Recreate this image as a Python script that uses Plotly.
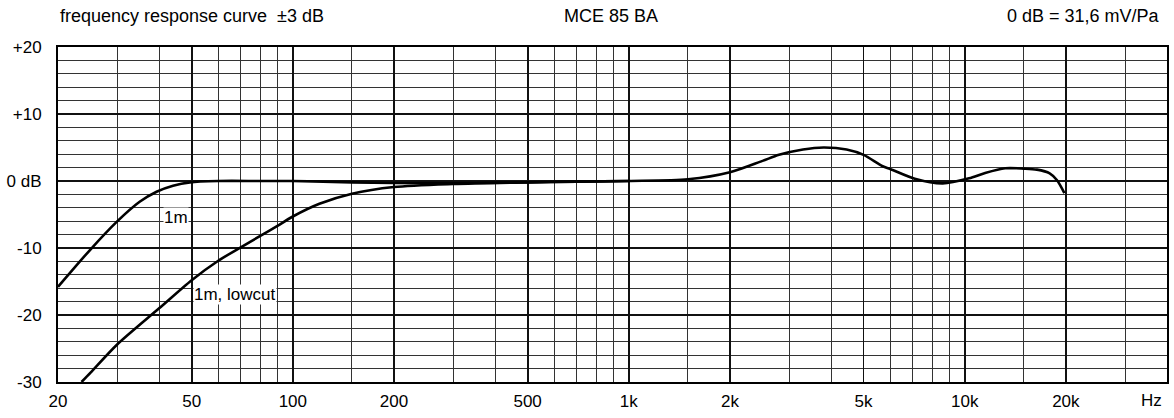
import plotly.graph_objects as go

# ---- data ----
freq_1m = [20, 24.9, 29.9, 35, 39.3, 44, 49.4, 60, 80, 100, 150, 200, 300, 500, 700,
           1000, 1500, 2000, 2500, 2800, 3300, 3800, 4450, 5000, 5700, 6000, 7100,
           8600, 10300, 11500, 13200, 15000, 16400, 17900, 18800, 19800]
db_1m = [-15.8, -10.3, -6.1, -3.1, -1.6, -0.7, -0.2, 0.0, 0.0, 0.0, -0.2, -0.3, -0.3, -0.2, -0.1,
         0.0, 0.25, 1.3, 3.0, 3.9, 4.7, 5.0, 4.7, 3.9, 2.2, 1.8, 0.35,
         -0.35, 0.4, 1.2, 1.9, 1.85, 1.7, 1.15, 0.15, -1.8]

freq_lowcut = [23.5, 25, 30, 40, 50, 60, 70, 80, 90, 100, 120, 150, 200, 300, 500, 700, 1000]
db_lowcut = [-30.0, -28.6, -24.4, -19.0, -14.8, -11.9, -9.9, -8.2, -6.7, -5.3, -3.4, -1.9,
             -0.9, -0.45, -0.2, -0.1, 0.0]

x_major = [20, 50, 100, 200, 500, 1000, 2000, 5000, 10000, 20000]
x_major_text = ["20", "50", "100", "200", "500", "1k", "2k", "5k", "10k", "20k"]
x_minor = [30, 40, 60, 70, 80, 90, 150, 300, 400, 600, 700, 800, 900, 1500,
           3000, 4000, 6000, 7000, 8000, 9000, 15000, 30000]
y_major = [-30, -20, -10, 0, 10, 20]
y_major_text = ["-30", "-20", "-10", "0 dB", "+10", "+20"]
y_minor = [v for v in range(-30, 21, 2) if v % 10 != 0]

title_left = "frequency response curve \u00a0±3 dB"
title_mid = "MCE 85 BA"
title_right = "0 dB = 31,6 mV/Pa"
label_1m = "1m"
label_lowcut = "1m, lowcut"

FONT = "Liberation Sans, Arial, Helvetica, sans-serif"
FS = 18
FS_TICK = 17

fig = go.Figure()
fig.add_trace(go.Scatter(x=freq_1m, y=db_1m, mode="lines",
                         line=dict(color="black", width=2.6, shape="spline", smoothing=0.8),
                         hoverinfo="skip", showlegend=False, cliponaxis=True))
fig.add_trace(go.Scatter(x=freq_lowcut, y=db_lowcut, mode="lines",
                         line=dict(color="black", width=2.6, shape="spline", smoothing=0.8),
                         hoverinfo="skip", showlegend=False, cliponaxis=True))

fig.update_layout(
    width=1174, height=418,
    margin=dict(l=58, r=7, t=47, b=36, autoexpand=False),
    paper_bgcolor="white", plot_bgcolor="white",
    font=dict(family=FONT, size=FS, color="black"),
    showlegend=False,
    xaxis=dict(
        type="log", range=[1.30103, 4.60206], automargin=False,
        tickmode="array", tickvals=x_major, ticktext=x_major_text,
        showgrid=True, gridcolor="#111111", gridwidth=1.8,
        minor=dict(tickmode="array", tickvals=x_minor, showgrid=True,
                   gridcolor="#333333", gridwidth=1, ticks=""),
        showline=True, linecolor="black", linewidth=2, mirror=True,
        ticks="outside", ticklen=3, tickcolor="rgba(0,0,0,0)",
        zeroline=False, tickfont=dict(size=FS_TICK),
    ),
    yaxis=dict(
        range=[-30, 20], automargin=False,
        tickmode="array", tickvals=y_major, ticktext=y_major_text,
        showgrid=True, gridcolor="#111111", gridwidth=2.2,
        minor=dict(tickmode="array", tickvals=y_minor, showgrid=True,
                   gridcolor="#333333", gridwidth=1, ticks=""),
        showline=True, linecolor="black", linewidth=2, mirror=True,
        ticks="outside", ticklen=11, tickcolor="rgba(0,0,0,0)",
        zeroline=False, tickfont=dict(size=FS_TICK),
    ),
    annotations=[
        dict(text=title_left, xref="paper", yref="paper", x=0, y=1.0925,
             xanchor="left", yanchor="middle", showarrow=False, font=dict(size=FS)),
        dict(text=title_mid, xref="paper", yref="paper", x=0.4986, y=1.0925,
             xanchor="center", yanchor="middle", showarrow=False, font=dict(size=FS)),
        dict(text=title_right, xref="paper", yref="paper", x=0.9955, y=1.0925,
             xanchor="right", yanchor="middle", showarrow=False, font=dict(size=FS)),
        dict(text="Hz", xref="paper", yref="paper", x=0.9975, y=-0.054,
             xanchor="right", yanchor="middle", showarrow=False, font=dict(size=FS_TICK)),
        dict(text=label_1m, xref="x", yref="y", x=1.614, y=-5.4,
             xanchor="left", yanchor="middle", showarrow=False, font=dict(size=FS_TICK),
             bgcolor="white", borderpad=0),
        dict(text=label_lowcut, xref="x", yref="y", x=1.702, y=-17.0,
             xanchor="left", yanchor="middle", showarrow=False, font=dict(size=FS_TICK),
             bgcolor="white", borderpad=0),
    ],
)

# remove the browser's default page margin so the figure fills the window exactly
fig.write_html("out.html",
               config={"displayModeBar": False, "staticPlot": True},
               post_script="document.body.style.margin='0px';document.body.style.padding='0px';")
